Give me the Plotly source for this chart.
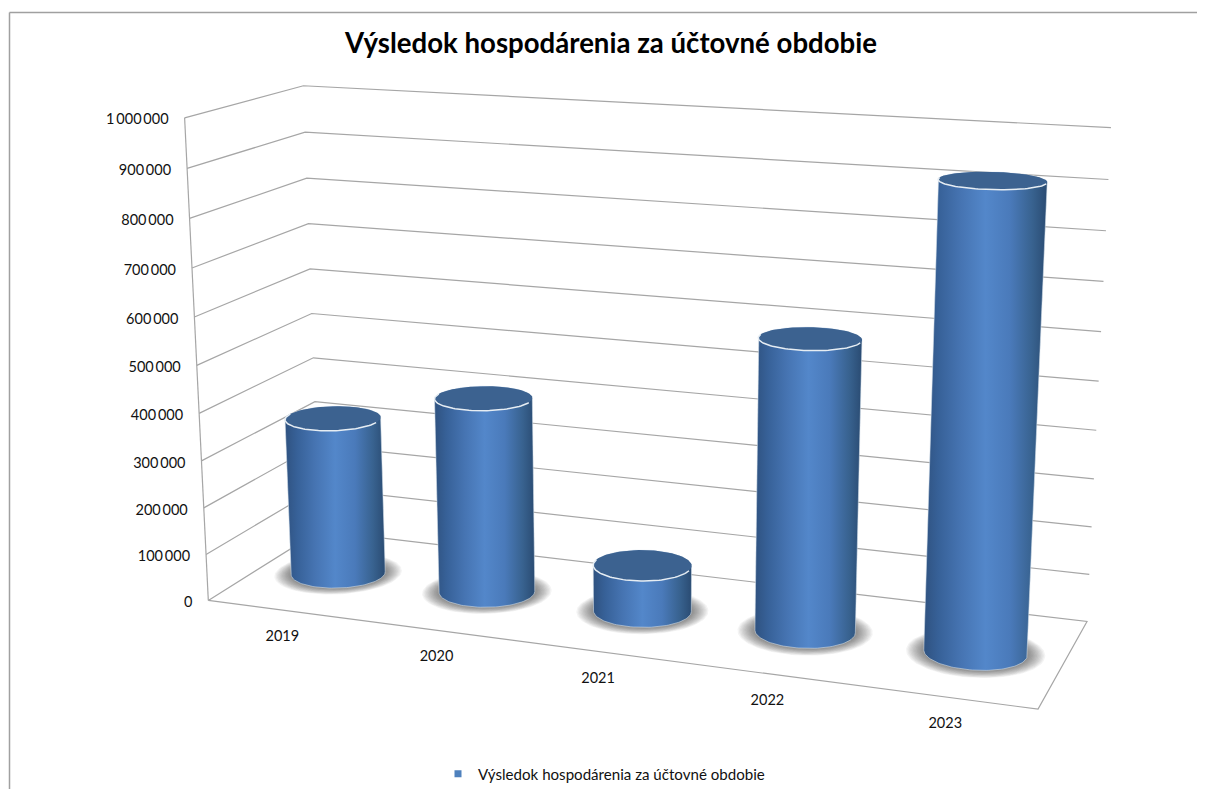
import numpy as np
import plotly.graph_objects as go

years = ["2019", "2020", "2021", "2022", "2023"]
result = [342000, 417000, 98000, 599000, 928000]
title = "Výsledok hospodárenia za účtovné obdobie"
value_ticks = [0, 100000, 200000, 300000, 400000, 500000, 600000, 700000, 800000, 900000, 1000000]
value_labels = ["0", "100\u2009000", "200\u2009000", "300\u2009000", "400\u2009000", "500\u2009000",
                "600\u2009000", "700\u2009000", "800\u2009000", "900\u2009000", "1\u2009000\u2009000"]
VMAX = 1000000

# view of the 3-D box: box corner (category, depth, value) -> place on the page
view_pairs = [((0, 0, 0), (208, 602)), ((1, 0, 0), (1038, 711)), ((1, 1, 0), (1087, 623)),
              ((0, 1, 0), (320, 532)), ((0, 0, 1), (185, 118)), ((0, 1, 1), (303, 86)),
              ((1, 1, 1), (1111, 128))]
A, b = [], []
for (u, v, w), (px, py) in view_pairs:
    A.append([u, v, w, 1, 0, 0, 0, 0, -px*u, -px*v, -px*w]); b.append(px)
    A.append([0, 0, 0, 0, u, v, w, 1, -py*u, -py*v, -py*w]); b.append(py)
m = np.linalg.lstsq(np.array(A, float), np.array(b, float), rcond=None)[0]
P = np.append(m, 1).reshape(3, 4)

def proj(u, v, value):
    u, v, w = np.broadcast_arrays(np.asarray(u, float), np.asarray(v, float), np.asarray(value, float)/VMAX)
    d = P[2, 0]*u + P[2, 1]*v + P[2, 2]*w + P[2, 3]
    return (P[0, 0]*u + P[0, 1]*v + P[0, 2]*w + P[0, 3])/d, (P[1, 0]*u + P[1, 1]*v + P[1, 2]*w + P[1, 3])/d

def hull(x, y):
    pts = sorted(set(zip(np.round(x, 3).tolist(), np.round(y, 3).tolist())))
    def half(ps):
        out = []
        for p in ps:
            while len(out) > 1 and (out[-1][0]-out[-2][0])*(p[1]-out[-2][1]) - (out[-1][1]-out[-2][1])*(p[0]-out[-2][0]) <= 0:
                out.pop()
            out.append(p)
        return out[:-1]
    h = half(pts) + half(pts[::-1])
    h.append(h[0])
    return [p[0] for p in h], [p[1] for p in h]

GRID = "#a6a6a6"
RU, RV = 0.058, 0.195
theta = np.linspace(0, 2*np.pi, 121)
fig = go.Figure()

def line(x, y, color=GRID, width=1.2):
    fig.add_trace(go.Scatter(x=x, y=y, mode="lines", line=dict(color=color, width=width),
                             showlegend=False, hoverinfo="skip"))

# walls and floor
for t in value_ticks[1:]:
    xs, ys = proj([0, 0, 1], [0, 1, 1], [t, t, t])
    line(xs, ys)
xs, ys = proj([0, 0], [0, 0], [0, VMAX])
line(xs, ys)
xs, ys = proj([0, 1, 1, 0, 0], [0, 0, 1, 1, 0], [0, 0, 0, 0, 0])
line(xs, ys)

# value labels and category labels
xs, ys = proj(np.zeros(len(value_ticks)), np.zeros(len(value_ticks)), value_ticks)
fig.add_trace(go.Scatter(x=xs-16, y=ys+3, mode="text", text=value_labels, textposition="middle left",
                         textfont=dict(family="Lato", size=14.5, color="#111111"),
                         showlegend=False, hoverinfo="skip"))
cat_u = (np.arange(len(years)) + 0.5)/len(years)
xs, ys = proj(cat_u, np.zeros(len(years)), np.zeros(len(years)))
fig.add_trace(go.Scatter(x=xs-0.5, y=ys+27.5, mode="text", text=years, textposition="middle center",
                         textfont=dict(family="Lato", size=14.5, color="#111111"),
                         showlegend=False, hoverinfo="skip"))

# cylinders
body_scale = [[0, "#2f5280"], [0.12, "#376198"], [0.3, "#4674b2"], [0.5, "#5387ca"],
              [0.7, "#4a7aba"], [0.88, "#38628f"], [1, "#2a4b72"]]
for uc, val in zip(cat_u, result):
    eu, ev = uc + RU*np.cos(theta), 0.5 + RV*np.sin(theta)
    # floor shadow
    for ku, kv in zip(np.linspace(1.34, 1.0, 14), np.linspace(1.42, 1.0, 14)):
        sx, sy = proj(uc + RU*ku*np.cos(theta), 0.5 + RV*kv*np.sin(theta), 0*theta)
        fig.add_trace(go.Scatter(x=sx, y=sy, mode="lines", fill="toself", line=dict(width=0),
                                 fillcolor="rgba(40,40,40,0.05)", showlegend=False, hoverinfo="skip"))
    bx, by = proj(eu, ev, 0*theta)
    tx, ty = proj(eu, ev, val + 0*theta)
    hx, hy = hull(np.r_[bx, tx], np.r_[by, ty])
    fig.add_trace(go.Scatter(x=hx, y=hy, mode="lines", fill="toself",
                             line=dict(color="rgba(215,225,235,0.55)", width=1),
                             fillgradient=dict(type="horizontal", colorscale=body_scale),
                             showlegend=False, hoverinfo="skip"))
    fig.add_trace(go.Scatter(x=tx, y=ty, mode="lines", fill="toself", line=dict(width=0),
                             fillcolor="#3c6290", showlegend=False, hoverinfo="skip"))
    front = (theta >= np.pi)
    line(tx[front], ty[front], color="#e6edf3", width=1.5)

fig.add_trace(go.Scatter(x=[None], y=[None], mode="markers", name=title,
                         marker=dict(symbol="square", size=7, color="#4f81bd")))

# the page body sits 8 px in from the window edge
fig.update_layout(
    width=1197, height=783, margin=dict(l=0, r=0, t=0, b=0),
    paper_bgcolor="white", plot_bgcolor="white",
    xaxis=dict(range=[8, 1205], visible=False, fixedrange=True),
    yaxis=dict(range=[791, 8], visible=False, fixedrange=True),
    title=dict(text=title, x=(611-8)/1197, y=1-(43-8)/783, xanchor="center", yanchor="middle",
               font=dict(family="Lato", size=27.6, color="#000000", weight="bold")),
    legend=dict(x=(604-8)/1197, y=1-(776-8)/783, xanchor="center", yanchor="middle", orientation="h",
                font=dict(family="Lato", size=15.1, color="#111111"), itemwidth=30),
    shapes=[dict(type="line", xref="x", yref="y", x0=9.5, x1=9.5, y0=12.5, y1=791, line=dict(color="#a0a0a0", width=1.5)),
            dict(type="line", xref="x", yref="y", x0=9.5, x1=1205, y0=12.5, y1=12.5, line=dict(color="#a0a0a0", width=1.5))],
)
fig.write_html("out.html")
